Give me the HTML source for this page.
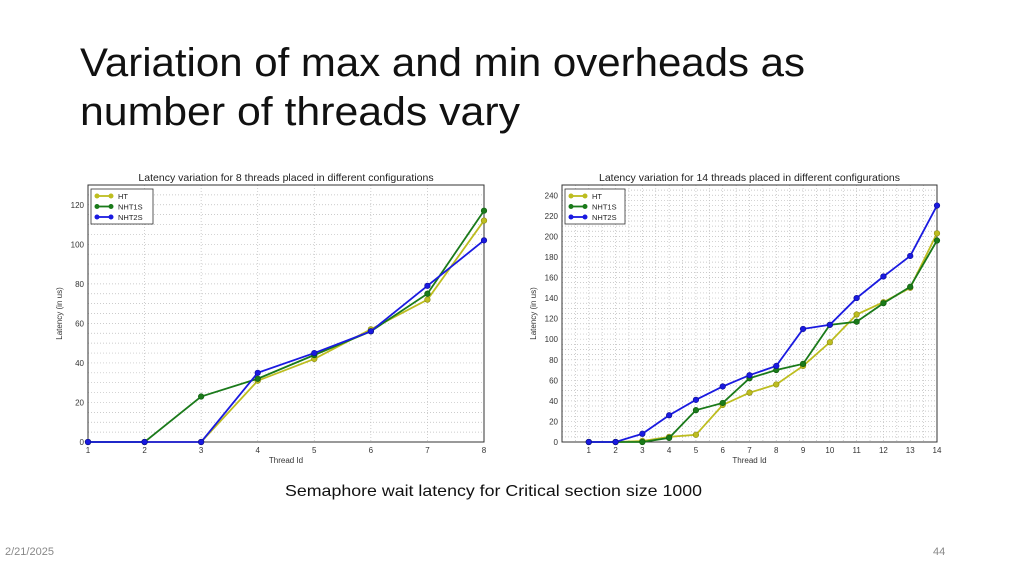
<!DOCTYPE html>
<html><head><meta charset="utf-8"><style>
body{margin:0;background:#fff;}
svg{display:block;font-family:"Liberation Sans",sans-serif;}
</style></head><body>
<svg id="s" width="1024" height="576" viewBox="0 0 1024 576">
<text x="80" y="76" font-size="40" textLength="725" lengthAdjust="spacingAndGlyphs" fill="#111">Variation of max and min overheads as</text>
<text x="80" y="125" font-size="40" textLength="440" lengthAdjust="spacingAndGlyphs" fill="#111">number of threads vary</text>
<text x="285" y="496" font-size="16" textLength="417" lengthAdjust="spacingAndGlyphs" fill="#111">Semaphore wait latency for Critical section size 1000</text>
<text x="5" y="555" font-size="11" fill="#888">2/21/2025</text>
<text x="933" y="555" font-size="11" fill="#888">44</text>
<g id="c1"></g>
<g id="c2"></g>
</svg>
<script>
const threads8 = [1,2,3,4,5,6,7,8];
const ht8 = [0,0,0,31,42,57,72,112];
const nht1s8 = [0,0,23,32,44,56,75,117];
const nht2s8 = [0,0,0,35,45,56,79,102];
const yTicks8 = [0,20,40,60,80,100,120];
const threads14 = [1,2,3,4,5,6,7,8,9,10,11,12,13,14];
const ht14 = [0,0,1,5,7,36,48,56,74,97,124,136,150,203];
const nht1s14 = [0,0,0,4,31,38,62,70,76,114,117,135,151,196];
const nht2s14 = [0,0,8,26,41,54,65,74,110,114,140,161,181,230];
const yTicks14 = [0,20,40,60,80,100,120,140,160,180,200,220,240];
const seriesNames = ["HT","NHT1S","NHT2S"];
const NS="http://www.w3.org/2000/svg";
function mk(parent,tag,attrs){const e=document.createElementNS(NS,tag);for(const k in attrs)e.setAttribute(k,attrs[k]);parent.appendChild(e);return e;}
function chart(g,o){
  const X=v=>o.l+(v-o.x0)/(o.x1-o.x0)*(o.r-o.l);
  const Y=v=>o.b-(v-o.y0)/(o.y1-o.y0)*(o.b-o.t);
  let t=mk(g,'text',{x:(o.l+o.r)/2,y:o.t-4,'font-size':10.5,'text-anchor':'middle',fill:'#222'});t.textContent=o.title;
  
  
  for(let v=o.y0;v<=o.y1;v+=5){const l=mk(g,'line',{x1:o.l,x2:o.r,y1:Y(v),y2:Y(v),stroke:'#bbb','stroke-width':0.7,'stroke-dasharray':'1,2'});
    
    }
  for(let v=o.x0;v<=o.x1;v+=o.xm){const l=mk(g,'line',{x1:X(v),x2:X(v),y1:o.t,y2:o.b,stroke:'#bbb','stroke-width':0.7,'stroke-dasharray':'1,2'});
    
    }
  const fr=mk(g,'rect',{x:o.l,y:o.t,width:o.r-o.l,height:o.b-o.t,fill:'none',stroke:'#333','stroke-width':1});
  
  
  o.yt.forEach(v=>{const e=mk(g,'text',{x:o.l-4,y:Y(v)+3,'font-size':8,'text-anchor':'end',fill:'#333'});e.textContent=v;
    
    });
  o.xs.forEach(v=>{const e=mk(g,'text',{x:X(v),y:o.b+11,'font-size':8,'text-anchor':'middle',fill:'#333'});e.textContent=v;
    
    });
  let xl=mk(g,'text',{x:(o.l+o.r)/2,y:o.b+21,'font-size':8,'text-anchor':'middle',fill:'#333'});xl.textContent='Thread Id';
  
  
  let yl=mk(g,'text',{x:0,y:0,'font-size':8,'text-anchor':'middle',fill:'#333',transform:`translate(${o.l-26},${(o.t+o.b)/2}) rotate(-90)`});yl.textContent='Latency (in us)';
  
  
  const cols=[['#bdbd1f','#8a8a10'],['#1a7a1a','#0d5a0d'],['#1a1ae0','#0a0a90']];
  o.series.forEach((s,i)=>{
    const pts=o.xs.map((x,j)=>X(x)+','+Y(s[j])).join(' ');
    const pl=mk(g,'polyline',{points:pts,fill:'none',stroke:cols[i][0],'stroke-width':1.8});
    
    
    o.xs.forEach((x,j)=>{const c=mk(g,'circle',{cx:X(x),cy:Y(s[j]),r:2.8,fill:cols[i][0],stroke:cols[i][1],'stroke-width':0.6});
      
      });
  });
  const lx=o.l+3,ly=o.t+4;
  const lb=mk(g,'rect',{x:lx,y:ly,width:o.lw,height:35,fill:'#fff',stroke:'#333','stroke-width':0.8});
  
  
  seriesNames.forEach((n,i)=>{const yy=ly+7+i*10.5;
    mk(g,'line',{x1:lx+5,x2:lx+21,y1:yy,y2:yy,stroke:cols[i][0],'stroke-width':1.8});
    mk(g,'circle',{cx:lx+6,cy:yy,r:2.5,fill:cols[i][0]});mk(g,'circle',{cx:lx+20,cy:yy,r:2.5,fill:cols[i][0]});
    const e=mk(g,'text',{x:lx+27,y:yy+3,'font-size':7.5,fill:'#222'});e.textContent=n;
    
    });
}
chart(document.getElementById('c1'),{l:88,r:484,t:185,b:442,x0:1,x1:8,xm:1,y0:0,y1:130,yt:yTicks8,xs:threads8,series:[ht8,nht1s8,nht2s8],title:'Latency variation for 8 threads placed in different configurations',lw:62});
chart(document.getElementById('c2'),{l:562,r:937,t:185,b:442,x0:0,x1:14,xm:0.5,y0:0,y1:250,yt:yTicks14,xs:threads14,series:[ht14,nht1s14,nht2s14],title:'Latency variation for 14 threads placed in different configurations',lw:60});
</script>
</body></html>
